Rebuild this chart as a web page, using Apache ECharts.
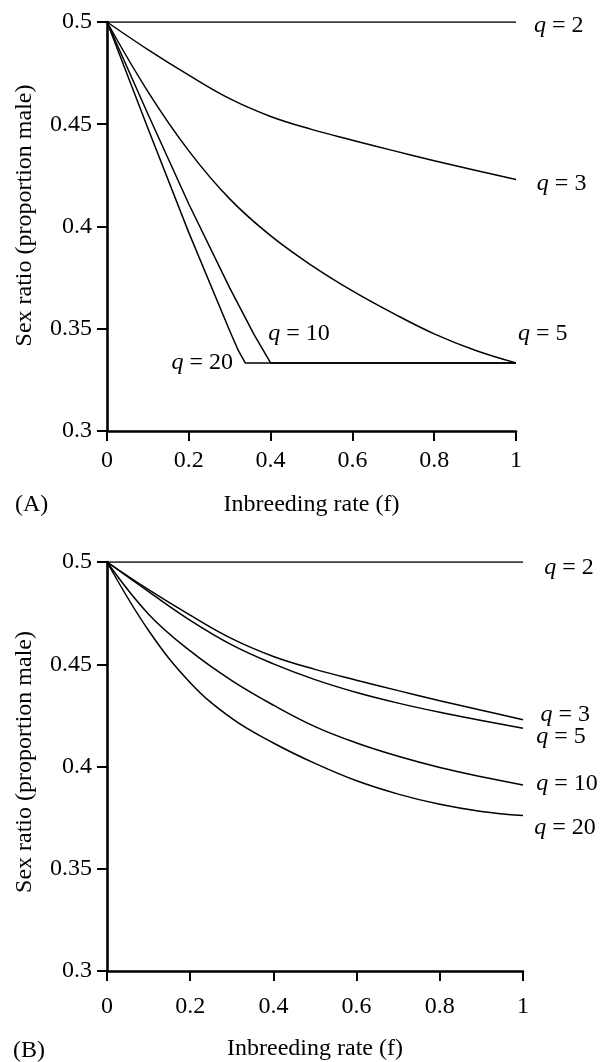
<!DOCTYPE html>
<html>
<head>
<meta charset="utf-8">
<script src="https://cdn.jsdelivr.net/npm/echarts@6/dist/echarts.min.js"></script>
<style>
  html, body { margin: 0; padding: 0; background: #fff; }
  #chart { width: 608px; height: 1062px; }
</style>
</head>
<body>
<div id="chart"></div>
<script>
// Inbreeding rate (f) sample points shared by the smooth curves
const fSteps = [0, 0.1, 0.2, 0.3, 0.4, 0.5, 0.6, 0.7, 0.8, 0.9, 1];

// q values of the curves
const qValues = [2, 3, 5, 10, 20];

// Panel A: sex ratio (proportion male)
const aQ2  = [0.5, 0.5, 0.5, 0.5, 0.5, 0.5, 0.5, 0.5, 0.5, 0.5, 0.5];
const aQ3  = [0.5, 0.4865, 0.474, 0.4625, 0.4538, 0.4475, 0.4422, 0.4371, 0.4322, 0.4275, 0.423];
const aQ5  = [0.5, 0.466, 0.437, 0.4135, 0.3955, 0.381, 0.3685, 0.3575, 0.3475, 0.3395, 0.3333];
const aQ10F = [0, 0.1, 0.2, 0.3, 0.36, 0.4, 1];
const aQ10  = [0.5, 0.455, 0.411, 0.37, 0.347, 0.3333, 0.3333];
const aQ20F = [0, 0.1, 0.2, 0.3, 0.321, 0.338, 1];
const aQ20  = [0.5, 0.448, 0.397, 0.349, 0.3394, 0.3333, 0.3333];

// Panel B: sex ratio (proportion male)
const bQ2  = [0.5, 0.5, 0.5, 0.5, 0.5, 0.5, 0.5, 0.5, 0.5, 0.5, 0.5];
const bQ3  = [0.5, 0.4865, 0.474, 0.4625, 0.4538, 0.4475, 0.4422, 0.4371, 0.4322, 0.4275, 0.4229];
const bQ5  = [0.5, 0.4855, 0.4715, 0.4595, 0.4502, 0.4425, 0.4362, 0.431, 0.4265, 0.4225, 0.4187];
const bQ10 = [0.5, 0.4745, 0.4565, 0.442, 0.430, 0.4195, 0.4115, 0.405, 0.3995, 0.395, 0.391];
const bQ20 = [0.5, 0.4665, 0.441, 0.4235, 0.4115, 0.4015, 0.393, 0.3865, 0.3815, 0.378, 0.376];

// Axis ticks
const xTicks = { min: 0, max: 1, interval: 0.2 };
const yTicks = { min: 0.3, max: 0.5, interval: 0.05 };

const FONT = '"Liberation Serif", "Times New Roman", "DejaVu Serif", serif';
const INK = '#000';

const pairs = (xs, ys) => xs.map((x, i) => [x, ys[i]]);

function curve(name, gridIdx, xs, ys, smooth) {
  return {
    name: name,
    type: 'line',
    xAxisIndex: gridIdx,
    yAxisIndex: gridIdx,
    data: pairs(xs, ys),
    smooth: smooth ? 0.4 : false,
    symbol: 'none',
    showSymbol: false,
    silent: true,
    lineStyle: { color: INK, width: 1.5 },
    z: 3
  };
}

function xAxis(gridIdx, nameGap, labelMargin) {
  return {
    type: 'value',
    gridIndex: gridIdx,
    min: xTicks.min, max: xTicks.max, interval: xTicks.interval,
    name: 'Inbreeding rate (f)',
    nameLocation: 'middle',
    nameGap: nameGap,
    nameTextStyle: { fontFamily: FONT, fontSize: 24, color: INK, verticalAlign: 'middle' },
    axisLine: { show: true, onZero: false, lineStyle: { color: INK, width: 2.6 } },
    axisTick: { show: true, inside: false, length: 10, lineStyle: { color: INK, width: 2 } },
    axisLabel: { fontFamily: FONT, fontSize: 24, color: INK, margin: labelMargin },
    splitLine: { show: false }
  };
}

function yAxis(gridIdx, shift) {
  return {
    type: 'value',
    gridIndex: gridIdx,
    min: yTicks.min, max: yTicks.max, interval: yTicks.interval,
    name: 'Sex ratio (proportion male)',
    nameLocation: 'middle',
    nameGap: 82,
    nameTextStyle: {
      fontFamily: FONT, fontSize: 24, color: INK, verticalAlign: 'middle',
      padding: [0, 0, 0, shift]
    },
    axisLine: { show: true, onZero: false, lineStyle: { color: INK, width: 2.6 } },
    axisTick: { show: true, inside: false, length: 10, lineStyle: { color: INK, width: 2 } },
    axisLabel: { fontFamily: FONT, fontSize: 24, color: INK, margin: 15 },
    splitLine: { show: false }
  };
}

const chart = echarts.init(document.getElementById('chart'), null, { renderer: 'canvas' });

chart.setOption({
  backgroundColor: '#fff',
  animation: false,
  grid: [
    { left: 107, top: 22, width: 409, height: 409 },
    { left: 107, top: 562, width: 416, height: 416 }
  ],
  xAxis: [xAxis(0, 74, 18), xAxis(1, 78, 24)],
  yAxis: [yAxis(0, 22), yAxis(1, 9)],
  series: [
    curve('A q=2', 0, fSteps, aQ2, false),
    curve('A q=3', 0, fSteps, aQ3, true),
    curve('A q=5', 0, fSteps, aQ5, true),
    curve('A q=10', 0, aQ10F, aQ10, false),
    curve('A q=20', 0, aQ20F, aQ20, false),
    curve('B q=2', 1, fSteps, bQ2, false),
    curve('B q=3', 1, fSteps, bQ3, true),
    curve('B q=5', 1, fSteps, bQ5, true),
    curve('B q=10', 1, fSteps, bQ10, true),
    curve('B q=20', 1, fSteps, bQ20, true)
  ]
});

// Curve labels, anchored in each panel's data coordinates
const curveLabels = [
  { grid: 0, q: qValues[0], at: [1.044, 0.4984], align: 'left' },
  { grid: 0, q: qValues[1], at: [1.051, 0.4211], align: 'left' },
  { grid: 0, q: qValues[2], at: [1.005, 0.3478], align: 'left' },
  { grid: 0, q: qValues[3], at: [0.394, 0.3478], align: 'left' },
  { grid: 0, q: qValues[4], at: [0.308, 0.3336], align: 'right' },
  { grid: 1, q: qValues[0], at: [1.051, 0.4972], align: 'left' },
  { grid: 1, q: qValues[1], at: [1.042, 0.4254], align: 'left' },
  { grid: 1, q: qValues[2], at: [1.032, 0.4148], align: 'left' },
  { grid: 1, q: qValues[3], at: [1.032, 0.3918], align: 'left' },
  { grid: 1, q: qValues[4], at: [1.027, 0.3702], align: 'left' }
];

const textStyle = (text, x, y, align) => ({
  text: text, x: x, y: y,
  fill: INK, fontFamily: FONT, fontSize: 24,
  align: align, verticalAlign: 'middle',
  rich: { i: { fontFamily: FONT, fontSize: 24, fontStyle: 'italic', fill: INK } }
});

const graphics = curveLabels.map(l => {
  const p = chart.convertToPixel({ gridIndex: l.grid }, l.at);
  return { type: 'text', silent: true, z: 10, style: textStyle('{i|q} = ' + l.q, p[0], p[1], l.align) };
});

// Panel letters
const panelLetters = [
  { text: '(A)', x: 15, y: 505 },
  { text: '(B)', x: 13, y: 1051 }
];
panelLetters.forEach(t => graphics.push({
  type: 'text', silent: true, z: 10, style: textStyle(t.text, t.x, t.y, 'left')
}));

chart.setOption({ graphic: graphics });
</script>
</body>
</html>
